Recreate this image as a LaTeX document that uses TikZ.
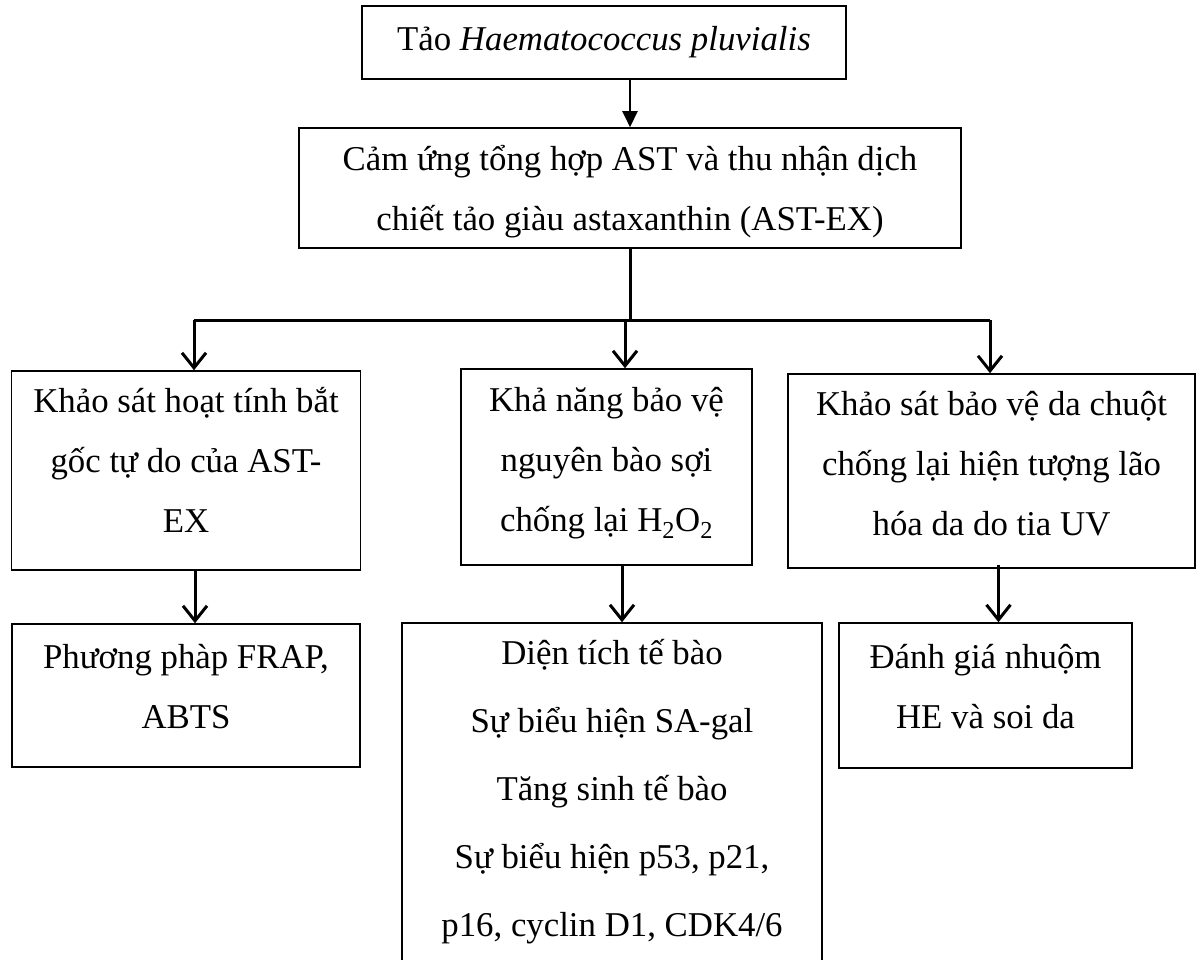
\documentclass[tikz,border=0pt]{standalone}
\usepackage{fontspec}
\setmainfont{Liberation Serif}
\usetikzlibrary{arrows.meta}

\begin{document}
\begin{tikzpicture}[x=1pt, y=-1pt,
  box/.style={rectangle, draw, line width=1.6pt, align=center, inner sep=0pt,
    font=\fontsize{34.8}{60}\selectfont},
  conn/.style={line width=3pt},
  arr/.style={line width=3pt, -{Straight Barb[length=15pt, width=24pt]}},
  arrtop/.style={line width=2.4pt, -{Triangle[length=16pt, width=15pt]}}]
\useasboundingbox (0,0) rectangle (1196,960);

\path (604,42.5) node[box, minimum width=484pt, minimum height=73pt] (tao)
        {Tảo \textit{Haematococcus pluvialis}}
      (630,188) node[box, minimum width=662pt, minimum height=120pt, text depth=0pt] (camung)
        {Cảm ứng tổng hợp AST và thu nhận dịch\\chiết tảo giàu astaxanthin (AST-EX)};

\path (186,470.5) node[box, minimum width=349pt, minimum height=199pt, text depth=22pt] (ksgoc)
        {Khảo sát hoạt tính bắt\\gốc tự do của AST-\\EX}
      (606.5,467) node[box, minimum width=291pt, minimum height=196pt, text depth=16pt] (kanang)
        {Khả năng bảo vệ\\nguyên bào sợi\\chống lại H\textsubscript{2}O\textsubscript{2}}
      (991.5,471) node[box, minimum width=407pt, minimum height=194pt, text depth=16pt] (ksda)
        {Khảo sát bảo vệ da chuột\\chống lại hiện tượng lão\\hóa da do tia UV};

\path (186,695.5) node[box, minimum width=348pt, minimum height=143pt, text depth=19pt] (frap)
        {Phương phàp FRAP,\\ABTS}
      (612,792) node[box, minimum width=420pt, minimum height=338pt,
        font=\fontsize{34.8}{68}\selectfont] (dientich)
        {Diện tích tế bào\\Sự biểu hiện SA-gal\\Tăng sinh tế bào\\Sự biểu hiện p53, p21,\\p16, cyclin D1, CDK4/6}
      (985.5,695.5) node[box, minimum width=293pt, minimum height=145pt, text depth=19pt] (danhgia)
        {Đánh giá nhuộm\\HE và soi da};

% branching
\coordinate (hub) at (630,320);
\coordinate (hl) at (194,320);
\coordinate (hm) at (625,320);
\coordinate (hr) at (990,320);

\draw[arrtop] (tao.south -| camung.north) -- (camung.north);
\draw[conn] (camung.south) -- (hub);
\draw[conn] (hl) -- (hr);
\draw[arr] (hl) -- (hl |- ksgoc.north);
\draw[arr] (hm) -- (hm |- kanang.north);
\draw[arr] (hr) -- (hr |- ksda.north);

\coordinate (d1) at ([xshift=9pt]frap.north);
\coordinate (d2) at ([xshift=10pt]dientich.north);
\coordinate (d3) at ([xshift=13pt]danhgia.north);
\draw[arr] (d1 |- ksgoc.south) -- (d1);
\draw[arr] (d2 |- kanang.south) -- (d2);
\draw[arr] ([yshift=4pt]d3 |- ksda.south) -- (d3);

\end{tikzpicture}
\end{document}
